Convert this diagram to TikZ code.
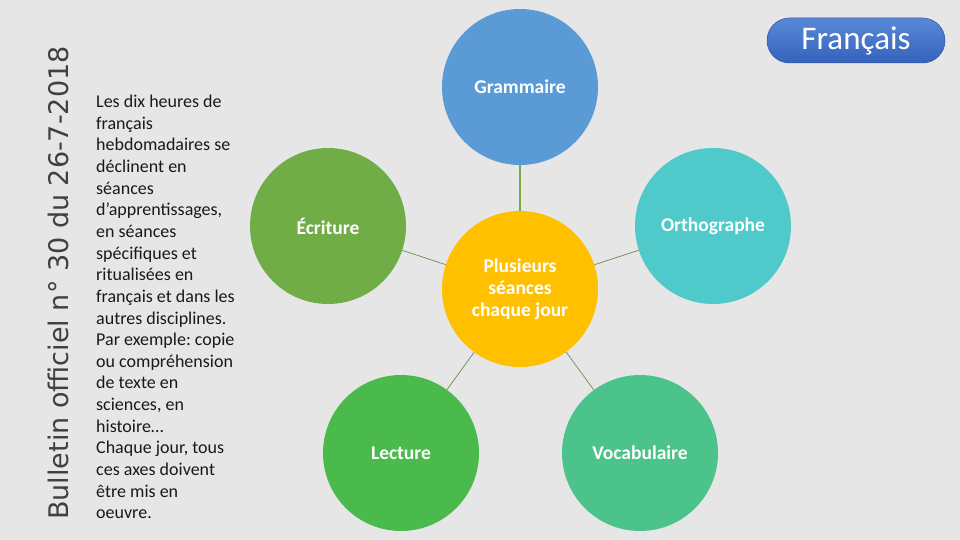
\documentclass[tikz,border=0pt]{standalone}
\usepackage{fontspec}
\setmainfont{Carlito}
\newfontfamily\bofont{DejaVu Sans}
\definecolor{fond}{HTML}{E7E6E6}
\definecolor{bleu}{HTML}{5B9BD5}
\definecolor{vert}{HTML}{70AD47}
\definecolor{jaune}{HTML}{FFC000}
\definecolor{turq}{HTML}{4FC9C9}
\definecolor{vertlec}{HTML}{4BBA4C}
\definecolor{vertvoc}{HTML}{4CC38A}
\definecolor{trait}{HTML}{6B8A55}
\definecolor{bleuhaut}{HTML}{5889D6}
\definecolor{bleubas}{HTML}{3562BC}
\frenchspacing

\begin{document}
\begin{tikzpicture}[x=1pt,y=-1pt,
    bulle/.style={circle,minimum size=156pt,inner sep=0pt,text=white,font=\fontsize{19.5}{22}\selectfont\bfseries,align=center},
    lien/.style={draw=trait,line width=0.7pt},
    pastille/.style={rounded corners=22.5pt,minimum width=178pt,minimum height=45pt,top color=bleuhaut,bottom color=bleubas,draw=bleubas!85!black,line width=0.5pt,text=white,font=\fontsize{33}{36}\selectfont}]
                    \fill[fond](0,0)rectangle(960,540);
                    \useasboundingbox(0,0)rectangle(960,540);
                    \node[rotate=90,anchor=base west,inner sep=0pt,text=black!75,font=\bofont\fontsize{27}{30}\selectfont](bo)at(68,520){Bulletin officiel n° 30 du 26-7-2018};
                    \node[anchor=north west,inner sep=0pt,align=left,text=black!90,font=\fontsize{18}{21.63}\selectfont](texte)at(96,95){Les dix heures de\\français\\hebdomadaires se\\déclinent en\\séances\\d’apprentissages,\\en séances\\spécifiques et\\ritualisées en\\français et dans les\\autres disciplines.\\Par exemple: copie\\ou compréhension\\de texte en\\sciences, en\\histoire…\\Chaque jour, tous\\ces axes doivent\\être mis en\\oeuvre.};
                    \node[pastille](fr)at(856,40.5){Français};
                    % les bulles
                    \node[bulle,fill=jaune](plus)at(520,289){Plusieurs\\séances\\chaque jour};
                    \node[bulle,fill=bleu](gram)at(520,87){Grammaire};
                    \node[bulle,fill=vert](ecri)at(328,226){Écriture};
                    \node[bulle,fill=turq](orth)at(713,226){Orthographe};
                    \node[bulle,fill=vertlec](lect)at(401,453){Lecture};
                    \node[bulle,fill=vertvoc](voca)at(640,453){Vocabulaire};
                    % les liens
                    \draw[draw=vert,line width=1.5pt](gram)--(plus);
                    \draw[lien](plus)--(ecri);
                    \draw[lien](plus)--(orth);
                    \draw[lien](plus)--(lect);
                    \draw[lien](plus)--(voca);
                \end{tikzpicture}
\end{document}
